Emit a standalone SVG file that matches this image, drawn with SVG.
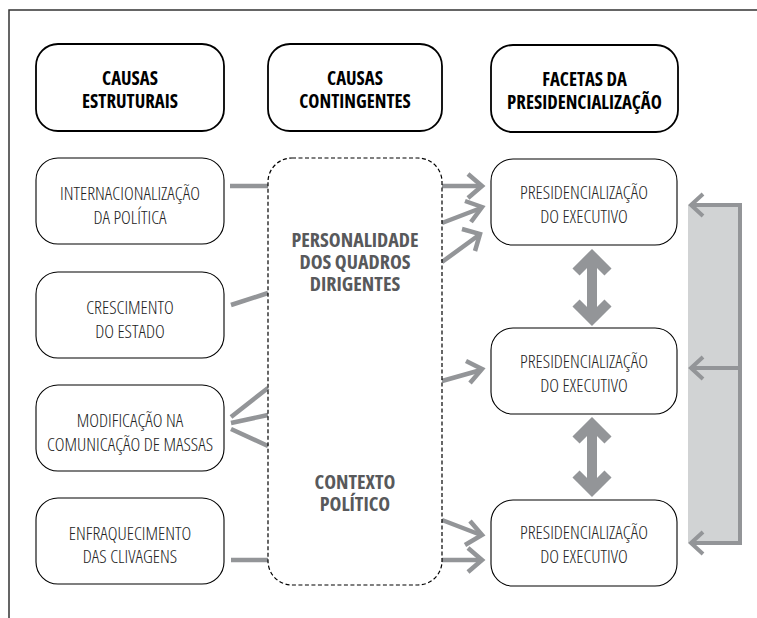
<svg xmlns="http://www.w3.org/2000/svg" width="757" height="618" viewBox="0 0 757 618">
<defs>
<style>
text{font-family:"Open Sans","Liberation Sans Narrow","DejaVu Sans Condensed",sans-serif;font-stretch:75%;text-anchor:middle}
.h{font-size:18.8px;font-weight:700;fill:#000}
.b{font-size:18.5px;font-weight:300;fill:#222}
.g{font-size:20px;font-weight:700;fill:#58595b}
.hbox{fill:#fff;stroke:#000;stroke-width:1.8}
.box{fill:#fff;stroke:#000;stroke-width:1.1}
.dash{fill:none;stroke:#000;stroke-width:1.2;stroke-dasharray:4 2.5}
.con{fill:none;stroke:#939598;stroke-width:4.5;stroke-linecap:butt}
.dbl{fill:none;stroke:#939598;stroke-width:10;stroke-linejoin:miter;stroke-miterlimit:10}
</style>
</defs>
<rect width="757" height="618" fill="#fff"/>
<path d="M9 618 V10 H757" fill="none" stroke="#333" stroke-width="1.5"/>

<g id="header-estruturais"><rect class="hbox" x="36" y="44" width="188" height="87" rx="22"/><text class="h" x="130" y="85">CAUSAS</text><text class="h" x="130" y="108">ESTRUTURAIS</text></g>
<g id="header-contingentes"><rect class="hbox" x="268" y="44" width="174" height="87" rx="22"/><text class="h" x="355" y="85">CAUSAS</text><text class="h" x="355" y="108">CONTINGENTES</text></g>
<g id="header-facetas"><rect class="hbox" x="491" y="45" width="187" height="87" rx="22"/><text class="h" x="584.5" y="86">FACETAS DA</text><text class="h" x="584.5" y="109">PRESIDENCIALIZAÇÃO</text></g>

<g id="bracket">
<rect x="688" y="205" width="52" height="338" fill="#d1d3d4"/>
<path d="M690 205 H740 V543 H690 M690 368 H740" fill="none" stroke="#939598" stroke-width="4"/>
<path d="M703 194 L691 205 L703 216 M703 357 L691 368 L703 379 M703 532 L691 543 L703 554" fill="none" stroke="#939598" stroke-width="4"/>
</g>

<g id="connectors">
<path class="con" d="M230 186 H268 M231 305 L268 293 M231 417 L268 388 M231 423 L268 415 M231 429 L268 446 M231 560 H268"/>
<path class="con" d="M442 186 H481 M442 223 L481 208 M442 262 L479 235 M442 381 L481 370 M442 520 L481 535 M442 560 H481"/>
<path class="con" d="M468 174 L482 186 L468 198 M465 201 L482 207 L471 222 M462 229 L480 234 L475 251 M466 361 L482 369 L470 383 M470 521 L482 535 L465 545 M468 548 L482 560 L468 572"/>
<path class="dbl" d="M592 257 V318 M576 272 L592 256 L608 272 M576 303 L592 319 L608 303"/>
<path class="dbl" d="M592 425 V489 M576 440 L592 424 L608 440 M576 474 L592 490 L608 474"/>
</g>

<g id="internacionalizacao"><rect class="box" x="36" y="158" width="188" height="86" rx="22"/><text class="b" x="130" y="200">INTERNACIONALIZAÇÃO</text><text class="b" x="130" y="223.5">DA POLÍTICA</text></g>
<g id="crescimento"><rect class="box" x="36" y="272" width="188" height="86" rx="22"/><text class="b" x="130" y="314">CRESCIMENTO</text><text class="b" x="130" y="337.5">DO ESTADO</text></g>
<g id="modificacao"><rect class="box" x="36" y="385" width="188" height="86" rx="22"/><text class="b" x="130" y="427">MODIFICAÇÃO NA</text><text class="b" x="130" y="451">COMUNICAÇÃO DE MASSAS</text></g>
<g id="enfraquecimento"><rect class="box" x="36" y="498" width="188" height="86" rx="22"/><text class="b" x="130" y="540">ENFRAQUECIMENTO</text><text class="b" x="130" y="563">DAS CLIVAGENS</text></g>

<g id="contingentes"><rect class="dash" x="268" y="158" width="174" height="427" rx="24"/>
<text class="g" x="355" y="247">PERSONALIDADE</text><text class="g" x="355" y="269">DOS QUADROS</text><text class="g" x="355" y="291">DIRIGENTES</text>
<text class="g" x="355" y="489">CONTEXTO</text><text class="g" x="355" y="511">POLÍTICO</text></g>

<g id="facetas-1"><rect class="box" x="491" y="159" width="186" height="86" rx="22"/><text class="b" x="584" y="199">PRESIDENCIALIZAÇÃO</text><text class="b" x="584" y="222.5">DO EXECUTIVO</text></g>
<g id="facetas-2"><rect class="box" x="491" y="328" width="186" height="86" rx="22"/><text class="b" x="584" y="368">PRESIDENCIALIZAÇÃO</text><text class="b" x="584" y="391.5">DO EXECUTIVO</text></g>
<g id="facetas-3"><rect class="box" x="491" y="500" width="186" height="86" rx="22"/><text class="b" x="584" y="539">PRESIDENCIALIZAÇÃO</text><text class="b" x="584" y="562.5">DO EXECUTIVO</text></g>
</svg>
